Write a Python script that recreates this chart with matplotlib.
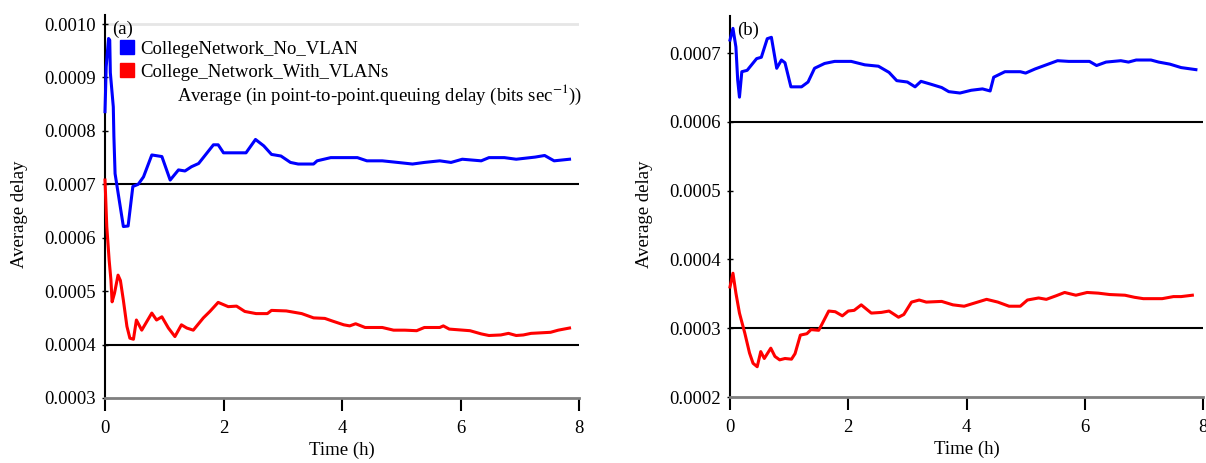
import matplotlib
matplotlib.use("Agg")
import matplotlib.pyplot as plt
from matplotlib.patches import Patch
from matplotlib.ticker import FormatStrFormatter

plt.rcParams['font.family'] = ['Liberation Serif', 'DejaVu Serif']
plt.rcParams['mathtext.fontset'] = 'stix'

# ---------------- data ----------------
series_names = ["CollegeNetwork_No_VLAN", "College_Network_With_VLANs"]
series_colors = ["#0000ff", "#ff0000"]

# Panel (a)
a_blue_t = [0.0, 0.02, 0.06, 0.08, 0.09, 0.14, 0.15, 0.17, 0.31, 0.39, 0.47, 0.56, 0.65, 0.79, 0.96,
            1.10, 1.24, 1.35, 1.46, 1.58, 1.83, 1.91, 2.0, 2.38, 2.54, 2.68, 2.81, 2.97, 3.13, 3.26,
            3.52, 3.58, 3.81, 4.26, 4.42, 4.68, 4.94, 5.19, 5.39, 5.65, 5.84, 6.03, 6.35, 6.48, 6.74,
            6.94, 7.26, 7.42, 7.58, 7.84]
a_blue_v = [0.000836, 0.00092, 0.000973, 0.00097, 0.000909, 0.000845, 0.00079, 0.00072, 0.000621,
            0.000622, 0.000696, 0.000700, 0.000714, 0.000755, 0.000752, 0.000708, 0.000727, 0.000725,
            0.000733, 0.000739, 0.000774, 0.000774, 0.000759, 0.000759, 0.000784, 0.000772, 0.000756,
            0.000753, 0.000741, 0.000738, 0.000738, 0.000744, 0.00075, 0.00075, 0.000744, 0.000744,
            0.000741, 0.000738, 0.000741, 0.000744, 0.000741, 0.000747, 0.000744, 0.00075, 0.00075,
            0.000747, 0.000751, 0.000754, 0.000744, 0.000747]

a_red_t = [0.0, 0.03, 0.07, 0.10, 0.12, 0.16, 0.22, 0.26, 0.31, 0.37, 0.42, 0.48, 0.53, 0.62, 0.79,
           0.87, 0.96, 1.07, 1.18, 1.29, 1.38, 1.49, 1.66, 1.77, 1.91, 2.08, 2.22, 2.36, 2.55, 2.74,
           2.81, 3.06, 3.32, 3.52, 3.71, 3.84, 4.03, 4.13, 4.23, 4.39, 4.68, 4.87, 5.06, 5.26, 5.39,
           5.65, 5.71, 5.81, 6.16, 6.35, 6.48, 6.68, 6.81, 6.94, 7.06, 7.19, 7.52, 7.65, 7.84]
a_red_v = [0.000708, 0.000621, 0.000558, 0.000521, 0.00048, 0.000496, 0.00053, 0.00052, 0.000483,
           0.000434, 0.000412, 0.00041, 0.000446, 0.000427, 0.000459, 0.000446, 0.000452, 0.000431,
           0.000415, 0.000437, 0.000431, 0.000427, 0.00045, 0.000462, 0.000479, 0.000471, 0.000472,
           0.000462, 0.000458, 0.000458, 0.000464, 0.000463, 0.000458, 0.00045, 0.000449, 0.000444,
           0.000437, 0.000435, 0.000439, 0.000432, 0.000432, 0.000427, 0.000427, 0.000426, 0.000432,
           0.000432, 0.000435, 0.000429, 0.000426, 0.00042, 0.000417, 0.000418, 0.000421, 0.000417,
           0.000418, 0.000421, 0.000423, 0.000427, 0.000431]

# Panel (b)
b_blue_t = [0.0, 0.05, 0.10, 0.13, 0.16, 0.20, 0.29, 0.45, 0.53, 0.63, 0.70, 0.79, 0.87, 0.93, 1.03,
            1.21, 1.32, 1.43, 1.60, 1.77, 2.05, 2.28, 2.51, 2.69, 2.82, 3.0, 3.13, 3.23, 3.39, 3.58,
            3.70, 3.89, 4.08, 4.27, 4.40, 4.46, 4.65, 4.91, 5.0, 5.16, 5.35, 5.54, 5.73, 6.08, 6.20,
            6.36, 6.61, 6.74, 6.87, 7.12, 7.25, 7.44, 7.63, 7.88]
b_blue_v = [0.000719, 0.000736, 0.000709, 0.000661, 0.000636, 0.000673, 0.000675, 0.000692, 0.000694,
            0.000721, 0.000723, 0.000678, 0.00069, 0.000686, 0.000651, 0.000651, 0.000658, 0.000678,
            0.000685, 0.000688, 0.000688, 0.000683, 0.000681, 0.000672, 0.00066, 0.000658, 0.000651,
            0.000659, 0.000655, 0.00065, 0.000644, 0.000642, 0.000646, 0.000648, 0.000645, 0.000665,
            0.000673, 0.000673, 0.000671, 0.000677, 0.000683, 0.000689, 0.000688, 0.000688, 0.000682,
            0.000687, 0.000689, 0.000687, 0.00069, 0.00069, 0.000687, 0.000684, 0.000679, 0.000676]

b_red_t = [0.0, 0.05, 0.10, 0.16, 0.25, 0.33, 0.39, 0.46, 0.52, 0.58, 0.69, 0.76, 0.84, 0.93, 1.04,
           1.10, 1.19, 1.30, 1.37, 1.50, 1.55, 1.67, 1.78, 1.90, 2.0, 2.10, 2.22, 2.39, 2.56, 2.69,
           2.85, 2.94, 3.07, 3.20, 3.32, 3.58, 3.77, 3.96, 4.15, 4.34, 4.53, 4.72, 4.91, 5.03, 5.22,
           5.35, 5.51, 5.66, 5.85, 6.04, 6.23, 6.42, 6.68, 6.84, 6.99, 7.31, 7.50, 7.63, 7.82]
b_red_v = [0.00036, 0.00038, 0.000351, 0.000322, 0.000293, 0.000264, 0.000249, 0.000244, 0.000266,
           0.000256, 0.000271, 0.000259, 0.000254, 0.000256, 0.000255, 0.000263, 0.00029, 0.000292,
           0.000298, 0.000297, 0.000305, 0.000325, 0.000324, 0.000318, 0.000325, 0.000326, 0.000334,
           0.000322, 0.000323, 0.000325, 0.000316, 0.00032, 0.000338, 0.000341, 0.000338, 0.000339,
           0.000334, 0.000332, 0.000337, 0.000342, 0.000338, 0.000332, 0.000332, 0.000341, 0.000344,
           0.000342, 0.000347, 0.000352, 0.000348, 0.000352, 0.000351, 0.000349, 0.000348, 0.000345,
           0.000343, 0.000343, 0.000346, 0.000346, 0.000348]

x_ticks = [0, 2, 4, 6, 8]
a_yticks = [0.0003, 0.0004, 0.0005, 0.0006, 0.0007, 0.0008, 0.0009, 0.0010]
b_yticks = [0.0002, 0.0003, 0.0004, 0.0005, 0.0006, 0.0007]
a_ref_lines = [0.0007, 0.0004]
b_ref_lines = [0.0006, 0.0003]
a_top_line = 0.0010

x_label = "Time (h)"
y_label = "Average delay"
legend_note = r"Average (in point-to-point.queuing delay (bits sec$^{-1}$))"

# ---------------- figure ----------------
W, H = 1206, 463
fig = plt.figure(figsize=(W / 100, H / 100), dpi=100)

ax_a = fig.add_axes([105 / W, 1 - 398 / H, (579 - 105) / W, (398 - 15) / H])
ax_b = fig.add_axes([730 / W, 1 - 397 / H, (1203 - 730) / W, (397 - 16) / H])

FS = 13.5


def style(ax, yticks, ylim, refs):
    ax.set_xlim(0, 8)
    ax.set_ylim(*ylim)
    ax.set_xticks(x_ticks)
    ax.set_yticks(yticks)
    ax.yaxis.set_major_formatter(FormatStrFormatter('%.4f'))
    for s in ('top', 'right'):
        ax.spines[s].set_visible(False)
    ax.spines['left'].set_color('black')
    ax.spines['left'].set_linewidth(1.5)
    ax.spines['bottom'].set_color('#7f7f7f')
    ax.spines['bottom'].set_linewidth(2.0)
    ax.tick_params(axis='x', direction='out', length=9, width=1.5, color='black',
                   labelsize=FS, pad=7)
    ax.tick_params(axis='y', direction='inout', length=5, width=1.0, color='black',
                   labelsize=FS, pad=4)
    for r in refs:
        ax.axhline(r, color='black', lw=1.5, zorder=1)
    ax.set_xlabel(x_label, fontsize=FS, labelpad=3)
    ax.set_ylabel(y_label, fontsize=FS)
    ax.yaxis.set_label_coords(-0.163, 0.48)


style(ax_a, a_yticks, (0.0003, 0.001017), a_ref_lines)
ax_a.axhline(a_top_line, color='#e6e6e6', lw=2, zorder=0)
style(ax_b, b_yticks, (0.0002, 0.000754), b_ref_lines)

lw = 2.2
ax_a.plot(a_blue_t, a_blue_v, color=series_colors[0], lw=lw, zorder=3, clip_on=False)
ax_a.plot(a_red_t, a_red_v, color=series_colors[1], lw=lw, zorder=3, clip_on=False)
ax_b.plot(b_blue_t, b_blue_v, color=series_colors[0], lw=lw, zorder=3, clip_on=False)
ax_b.plot(b_red_t, b_red_v, color=series_colors[1], lw=lw, zorder=3, clip_on=False)

ax_a.text(0.015, 0.985, "(a)", transform=ax_a.transAxes, fontsize=FS, va='top', ha='left')
ax_b.text(0.015, 0.985, "(b)", transform=ax_b.transAxes, fontsize=FS, va='top', ha='left')

handles = [Patch(facecolor=c, edgecolor=c, label=n) for c, n in zip(series_colors, series_names)]
ax_a.legend(handles=handles, loc='upper left', bbox_to_anchor=(0.031, 0.934), frameon=False,
            fontsize=FS, handlelength=0.75, handleheight=0.75, handletextpad=0.35,
            labelspacing=0.3, borderpad=0.0, borderaxespad=0.0)
ax_a.text((177 - 105) / 474, (398 - 95) / 383, legend_note, transform=ax_a.transAxes,
          fontsize=FS, va='center', ha='left')

fig.savefig("out.png", dpi=100)
